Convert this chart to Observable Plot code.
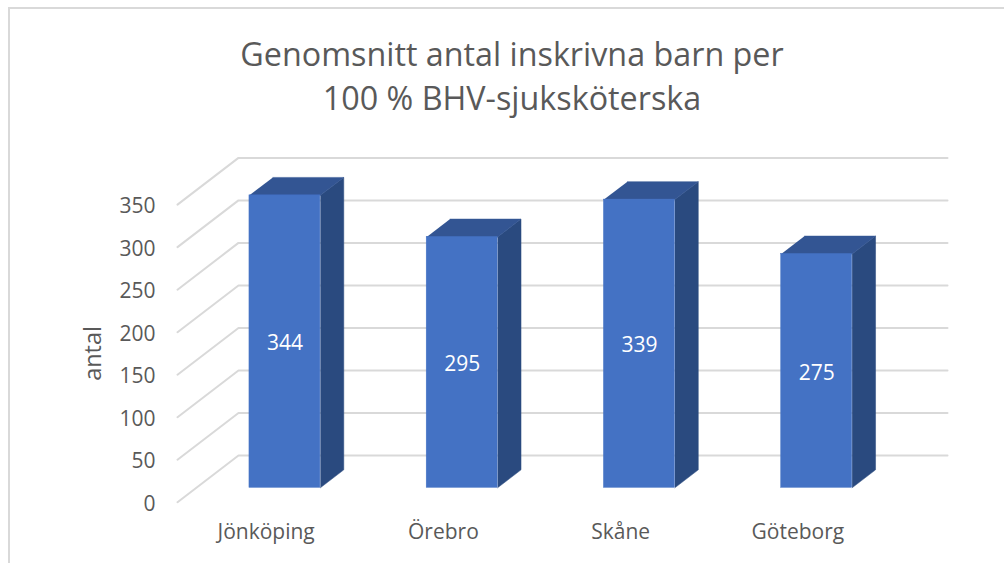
<!DOCTYPE html>
<html lang="sv">
<head>
<meta charset="utf-8">
<script src="https://cdn.jsdelivr.net/npm/d3@7"></script>
<script src="https://cdn.jsdelivr.net/npm/@observablehq/plot@0.6"></script>
<style>
html,body{margin:0;padding:0;background:#fff;overflow:hidden;width:1004px;height:563px;}
#frame{position:absolute;left:8px;top:7px;right:0;bottom:0;border-top:2px solid #d9d9d9;border-left:2px solid #d9d9d9;}
#title{position:absolute;left:20px;width:984px;top:0;height:130px;text-align:center;color:#595959;font:32.3px/44px "Open Sans",sans-serif;}
#title div{white-space:nowrap;}
#chart{position:absolute;left:0;top:130px;}
#chart svg{display:block;}
</style>
</head>
<body>
<div id="frame"></div>
<div id="title" style="padding-top:31px;box-sizing:border-box"><div>Genomsnitt antal inskrivna barn per</div><div>100 % BHV-sjuksköterska</div></div>
<div id="chart"></div>
<script>
const categories = ["Jönköping", "Örebro", "Skåne", "Göteborg"];
const values = [344, 295, 339, 275];
const yTicks = [0, 50, 100, 150, 200, 250, 300, 350];
const axisLabel = "antal";

// Oblique depth: how far the back of the floor shifts in data units
const depthX = 0.344, depthY = 55;
const barPad = 0.3, barFront = 0.308, barBack = 0.692;

const px = (u, w) => u + w * depthX;
const py = (v, w) => v + w * depthY;

const gridLines = yTicks.flatMap(t => [
  {t, x: px(0, 0), y: py(t, 0)},
  {t, x: px(0, 1), y: py(t, 1)},
  {t, x: px(4, 1), y: py(t, 1)}
]);

const bars = categories.map((name, i) => ({name, v: values[i], u0: i + barPad, u1: i + 1 - barPad}));

const sideFace = bars.flatMap(b => [
  {k: b.name, x: px(b.u1, barFront), y: py(0, barFront)},
  {k: b.name, x: px(b.u1, barBack), y: py(0, barBack)},
  {k: b.name, x: px(b.u1, barBack), y: py(b.v, barBack)},
  {k: b.name, x: px(b.u1, barFront), y: py(b.v, barFront)}
]);
const topFace = bars.flatMap(b => [
  {k: b.name, x: px(b.u0, barFront), y: py(b.v, barFront)},
  {k: b.name, x: px(b.u1, barFront), y: py(b.v, barFront)},
  {k: b.name, x: px(b.u1, barBack), y: py(b.v, barBack)},
  {k: b.name, x: px(b.u0, barBack), y: py(b.v, barBack)}
]);

const chart = Plot.plot({
  width: 1004,
  height: 433,
  marginLeft: 177,
  marginRight: 57,
  marginTop: 27.4,
  marginBottom: 61.3,
  style: {background: "transparent", fontFamily: "'Open Sans', sans-serif", fontSize: "21px", color: "#595959"},
  x: {domain: [0, 4 + depthX]},
  y: {domain: [0, 350 + depthY]},
  marks: [
    Plot.line(gridLines, {x: "x", y: "y", z: "t", stroke: "#d9d9d9", strokeWidth: 2, strokeLinejoin: "miter"}),
    Plot.line(sideFace, {x: "x", y: "y", z: "k", fill: "#2a4a7f", stroke: "#2a4a7f", strokeWidth: 0.5}),
    Plot.line(topFace, {x: "x", y: "y", z: "k", fill: "#335593", stroke: "#335593", strokeWidth: 0.5}),
    Plot.rect(bars, {
      x1: d => px(d.u0, barFront), x2: d => px(d.u1, barFront),
      y1: () => py(0, barFront), y2: d => py(d.v, barFront),
      fill: "#4472c4", stroke: "#4472c4", strokeWidth: 0.5
    }),
    Plot.text(bars, {
      x: d => px((d.u0 + d.u1) / 2, barFront), y: d => py(d.v / 2, barFront),
      text: d => String(d.v), fill: "white", fontSize: 21, dy: 2
    }),
    Plot.axisY({
      ticks: yTicks, tickSize: 0, tickPadding: 22, label: null, fontSize: 21, dy: 2,
      tickFormat: d => String(d)
    }),
    Plot.text([axisLabel], {
      frameAnchor: "left", textAnchor: "middle", dx: -84, y: () => 175, rotate: -90, fontSize: 23.5, fill: "#595959", text: d => d
    }),
    Plot.axisX({
      ticks: categories.map((_, i) => i + 0.5), tickSize: 0, tickPadding: 22, label: null, fontSize: 21,
      tickFormat: (d, i) => categories[i]
    })
  ]
});
document.getElementById("chart").appendChild(chart);
</script>
</body>
</html>
